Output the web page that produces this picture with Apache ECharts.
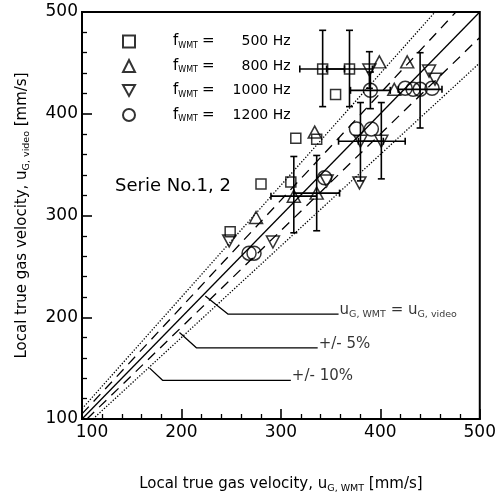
<!DOCTYPE html>
<html><head><meta charset="utf-8">
<script src="https://cdn.jsdelivr.net/npm/echarts@6/dist/echarts.min.js"></script>
<style>html,body{margin:0;padding:0;background:#fff}#c{width:499px;height:499px}</style>
</head><body><div id="c"></div>
<script>
// ---- data ----
const axisMin = 100, axisMax = 500, axisStep = 100;
const freqNames = ['500', '800', '1000', '1200'];
const sq500   = [[249,284],[280,331],[310,333],[315,376],[336,375],[355,419],[342,444],[369,444]];
const tri800  = [[275,298],[313,319],[336,322],[334,382],[399,451],[427,451],[414,424]];
const dtri1000= [[248,275],[292,274],[346,334],[379,332],[380,373],[401,373],[389,443],[449,442],[455,434]];
const circ1200= [[268,263],[273,263],[344,337],[376,385],[391,385],[390,423],[425,425],[433,424],[440,424],[452,425]];
// error bars: x, y, xLow, xHigh, yLow, yHigh
const errBars = [
  [342,444,319,364,407,482],[369,444,346,392,407,482],[389,443,389,389,425,461],
  [390,423,370,410,405,441],[440,424,418,462,386,460],
  [380,373,358,403,334,411],[401,373,378,425,336,411],
  [313,319,290,336,283,358],[336,322,313,359,285,359]
];
const refEqual   = [[100,100],[500,500]];
const refPlus5   = [[100,105],[476,500]];
const refMinus5  = [[105,100],[500,475]];
const refPlus10  = [[100,110],[455,500]];
const refMinus10 = [[111,100],[500,450]];
const leadEqual = [[224,221],[247,203],[358,203]];
const lead5     = [[198,185],[215,170],[337,170]];
const lead10    = [[168,150],[181,138],[310,138]];

const FONT = 'DejaVu Sans';
const chart = echarts.init(document.getElementById('c'), null, {renderer:'canvas'});

function renderErr(params, api){
  const x=api.value(0), y=api.value(1), xl=api.value(2), xh=api.value(3), yl=api.value(4), yh=api.value(5);
  const style={stroke:'#000', lineWidth:1.6};
  const cap=3.5, ch=[];
  if (xh > xl){
    const a=api.coord([xl,y]), b=api.coord([xh,y]);
    ch.push({type:'line',shape:{x1:a[0],y1:a[1],x2:b[0],y2:b[1]},style});
    ch.push({type:'line',shape:{x1:a[0],y1:a[1]-cap,x2:a[0],y2:a[1]+cap},style});
    ch.push({type:'line',shape:{x1:b[0],y1:b[1]-cap,x2:b[0],y2:b[1]+cap},style});
  }
  if (yh > yl){
    const a=api.coord([x,yl]), b=api.coord([x,yh]);
    ch.push({type:'line',shape:{x1:a[0],y1:a[1],x2:b[0],y2:b[1]},style});
    ch.push({type:'line',shape:{x1:a[0]-cap,y1:a[1],x2:a[0]+cap,y2:a[1]},style});
    ch.push({type:'line',shape:{x1:b[0]-cap,y1:b[1],x2:b[0]+cap,y2:b[1]},style});
  }
  return {type:'group', children:ch};
}

const mk = {color:'rgba(0,0,0,0)', borderColor:'#000', borderWidth:1.5};
function refLine(data, type, w){
  return {type:'line', data, symbol:'none', silent:true, lineStyle:{color:'#000', width:w, type}, z:1};
}
function leader(data, label){
  return [
    {type:'line', data, symbol:'none', silent:true, lineStyle:{color:'#000', width:1.3}, z:1},
    {type:'scatter', data:[data[data.length-1]], symbolSize:0, silent:true,
     label:{show:true, position:'right', distance:1, offset:[0,-4], formatter:label, color:'#000',
       fontFamily:FONT, fontSize:15,
       rich:{m:{fontFamily:FONT,fontSize:15,color:'#000'}, s:{fontFamily:FONT,fontSize:9.5,color:'#000',padding:[9,0,0,0]}}}}
  ];
}
const axisFont = {fontFamily:FONT, fontSize:17, color:'#000'};

chart.setOption({
  animation:false,
  backgroundColor:'#fff',
  grid:{left:82, right:7, top:12, bottom:78, show:true, borderColor:'#000', borderWidth:2},
  title:{text:'Serie No.1, 2', left:110, top:172, textStyle:{fontFamily:FONT, fontSize:18, fontWeight:'normal', color:'#000'}},
  legend:{
    orient:'vertical', left:117, top:29, itemWidth:12, itemHeight:12, itemGap:9,
    data:freqNames,
    formatter: n => '{f|f}{s|WMT}{e|=}{v|' + n + ' Hz}',
    textStyle:{fontFamily:FONT, fontSize:14, color:'#000',
      rich:{
        f:{fontFamily:FONT,fontSize:15,color:'#000',padding:[0,0,0,33]},
        s:{fontFamily:FONT,fontSize:8,color:'#000',padding:[8,0,0,0]},
        e:{fontFamily:FONT,fontSize:15,color:'#000',padding:[0,0,0,4]},
        v:{fontFamily:FONT,fontSize:14,color:'#000',width:76,align:'right'}
      }}
  },
  xAxis:{
    type:'value', min:axisMin, max:axisMax, interval:axisStep,
    name:'{m|Local true gas velocity, u}{s|G, WMT}{m| [mm/s]}',
    nameLocation:'middle', nameGap:56,
    nameTextStyle:{rich:{m:{fontFamily:FONT,fontSize:15,color:'#000'}, s:{fontFamily:FONT,fontSize:9.5,color:'#000',padding:[9,0,0,0]}}},
    axisLine:{lineStyle:{color:'#000', width:2}},
    axisTick:{inside:true, length:10, lineStyle:{color:'#000', width:1.6}},
    minorTick:{show:true, splitNumber:5, length:5, lineStyle:{color:'#000', width:1.3}},
    splitLine:{show:false},
    axisLabel:Object.assign({margin:5, formatter: v => v===axisMin ? '{p|'+v+'}' : String(v),
      rich:{p:{fontFamily:FONT,fontSize:17,color:'#000',padding:[0,0,0,20]}}}, axisFont)
  },
  yAxis:{
    type:'value', min:axisMin, max:axisMax, interval:axisStep,
    name:'{m|Local true gas velocity, u}{s|G, video}{m| [mm/s]}',
    nameLocation:'middle', nameGap:50, nameRotate:90,
    nameTextStyle:{rich:{m:{fontFamily:FONT,fontSize:15,color:'#000'}, s:{fontFamily:FONT,fontSize:9.5,color:'#000',padding:[9,0,0,0]}}},
    axisLine:{lineStyle:{color:'#000', width:2}},
    axisTick:{inside:true, length:10, lineStyle:{color:'#000', width:1.6}},
    minorTick:{show:true, splitNumber:5, length:5, lineStyle:{color:'#000', width:1.3}},
    splitLine:{show:false},
    axisLabel:Object.assign({margin:4}, axisFont)
  },
  series:[
    refLine(refEqual,'solid',1.3),
    refLine(refPlus5,[10,7],1.3),
    refLine(refMinus5,[10,7],1.3),
    refLine(refPlus10,[1.3,1.7],1.3),
    refLine(refMinus10,[1.3,1.7],1.3),
    ...leader(leadEqual,'{m|u}{s|G, WMT}{m| = u}{s|G, video}'),
    ...leader(lead5,'{m|+/- 5%}'),
    ...leader(lead10,'{m|+/- 10%}'),
    {type:'custom', renderItem:renderErr, data:errBars, encode:{x:0,y:1}, silent:true, z:3},
    {type:'scatter', name:freqNames[0], data:sq500, symbol:'rect', symbolSize:10, itemStyle:mk, z:4},
    {type:'scatter', name:freqNames[1], data:tri800, symbol:'triangle', symbolSize:[13,12], itemStyle:mk, z:4},
    {type:'scatter', name:freqNames[2], data:dtri1000, symbol:'path://M0,0L10,0L5,9Z', symbolSize:[13,12], itemStyle:mk, z:4},
    {type:'scatter', name:freqNames[3], data:circ1200, symbol:'circle', symbolSize:14, itemStyle:mk, z:4}
  ]
});
</script></body></html>
